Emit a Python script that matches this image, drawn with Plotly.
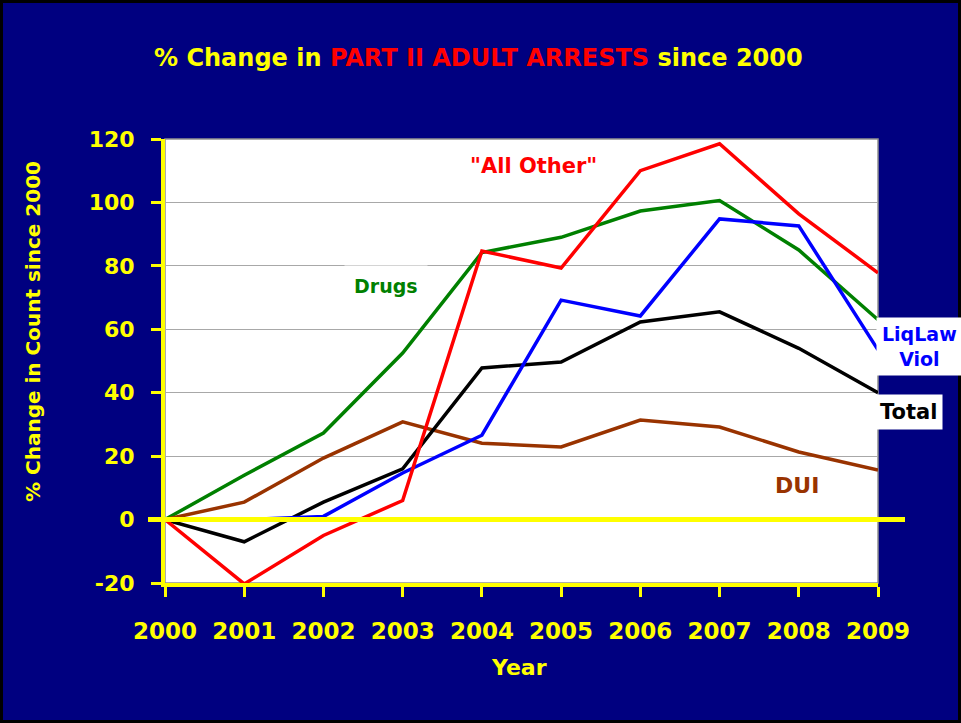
import plotly.graph_objects as go

years = [2000, 2001, 2002, 2003, 2004, 2005, 2006, 2007, 2008, 2009]
all_other = [0, -20.3, -5, 6, 84.7, 79.3, 110, 118.5, 96.4, 77.8]
drugs = [0, 14, 27.3, 52.5, 84.2, 89, 97.3, 100.6, 85, 63]
liqlaw = [0, 0, 1, 14.7, 26.6, 69.2, 64.2, 94.8, 92.6, 53.5]
total = [0, -7, 5.5, 16, 47.8, 49.7, 62.3, 65.5, 54, 40]
dui = [0, 5.5, 19.4, 30.8, 24.1, 22.9, 31.4, 29.2, 21.3, 15.6]
y_ticks = [-20, 0, 20, 40, 60, 80, 100, 120]

FONT = "DejaVu Sans"
YEL = "#FFFF00"
NAVY = "#000080"

W, H = 961, 723
L, R, T, B = 165, 878, 139, 583


def px(xp):
    return (xp - L) / (R - L)


def py(yp):
    return (B - yp) / (B - T)


fig = go.Figure()
series = [
    (drugs, "Drugs", "#008000"),
    (dui, "DUI", "#993300"),
    (total, "Total", "#000000"),
    (liqlaw, "LiqLaw Viol", "#0000FF"),
    (all_other, "All Other", "#FF0000"),
]
for vals, name, col in series:
    fig.add_trace(go.Scatter(x=years, y=vals, mode="lines", name=name,
                             line=dict(color=col, width=3.5), cliponaxis=True))

shapes = [
    dict(type="rect", xref="paper", yref="paper", x0=0, x1=1, y0=0, y1=1,
         line=dict(color="#909090", width=1.5), fillcolor="rgba(0,0,0,0)", layer="below"),
    dict(type="line", xref="paper", yref="y", x0=px(148), x1=px(905), y0=0, y1=0,
         line=dict(color=YEL, width=5), layer="above"),
    dict(type="rect", xref="paper", yref="paper", x0=px(1.5), x1=px(959.5),
         y0=py(721.5), y1=py(1.5), line=dict(color="black", width=3),
         fillcolor="rgba(0,0,0,0)", layer="above"),
]

annotations = [
    dict(xref="paper", yref="paper", x=px(478), y=py(58), showarrow=False,
         text="<b>% Change in <span style='color:#FF0000'>PART II ADULT ARRESTS</span> since 2000</b>",
         font=dict(family=FONT, size=24, color=YEL), xanchor="center", yanchor="middle"),
    dict(xref="paper", yref="paper", x=px(33), y=py(332), showarrow=False, textangle=-90,
         text="<b>% Change in Count since 2000</b>",
         font=dict(family=FONT, size=20, color=YEL), xanchor="center", yanchor="middle"),
    dict(xref="paper", yref="paper", x=px(519), y=py(667), showarrow=False,
         text="<b>Year</b>",
         font=dict(family=FONT, size=22, color=YEL), xanchor="center", yanchor="middle"),
    dict(x=2002.79, y=73.8, text="<b>Drugs</b>", showarrow=False, bgcolor="white", borderpad=9,
         font=dict(family=FONT, size=19, color="#008000"), xanchor="center"),
    dict(x=2004.65, y=111.5, text="<b>\"All Other\"</b>", showarrow=False,
         font=dict(family=FONT, size=21, color="#FF0000"), xanchor="center"),
    dict(x=2007.98, y=10.6, text="<b>DUI</b>", showarrow=False,
         font=dict(family=FONT, size=22, color="#993300"), xanchor="center"),
    dict(xref="paper", yref="paper", x=px(919.5), y=py(346), text="<b>LiqLaw</b><br><b>Viol</b>",
         showarrow=False, bgcolor="white", borderpad=5, align="center",
         font=dict(family=FONT, size=19, color="#0000FF"), xanchor="center", yanchor="middle"),
    dict(xref="paper", yref="paper", x=px(908), y=py(412), text="<b>Total</b>",
         showarrow=False, bgcolor="white", borderpad=5,
         font=dict(family=FONT, size=21, color="black"), xanchor="center", yanchor="middle"),
]

fig.update_layout(
    width=W, height=H,
    margin=dict(l=L, r=W - R, t=T, b=H - B, pad=0),
    paper_bgcolor=NAVY, plot_bgcolor="white",
    showlegend=False,
    shapes=shapes, annotations=annotations,
    font=dict(family=FONT, color=YEL),
)

fig.update_xaxes(
    range=[2000, 2009], tickvals=years, ticktext=[f"<b>{y}</b>" for y in years],
    showgrid=False, zeroline=False,
    showline=True, linecolor=YEL, linewidth=4,
    ticks="outside", tickcolor=YEL, tickwidth=3, ticklen=10,
    tickfont=dict(family=FONT, size=23, color=YEL),
    ticklabelstandoff=14,
)
fig.update_yaxes(
    range=[-20, 120], tickvals=y_ticks, ticktext=[f"<b>{v}</b>" for v in y_ticks],
    showgrid=True, gridcolor="#A8A8A8", gridwidth=1.2, zeroline=False,
    showline=True, linecolor=YEL, linewidth=4,
    ticks="outside", tickcolor=YEL, tickwidth=3, ticklen=10,
    tickfont=dict(family=FONT, size=22, color=YEL),
    ticklabelstandoff=12,
)

fig.write_html("out.html", config={"displayModeBar": False},
               post_script="document.body.style.margin='0';")
